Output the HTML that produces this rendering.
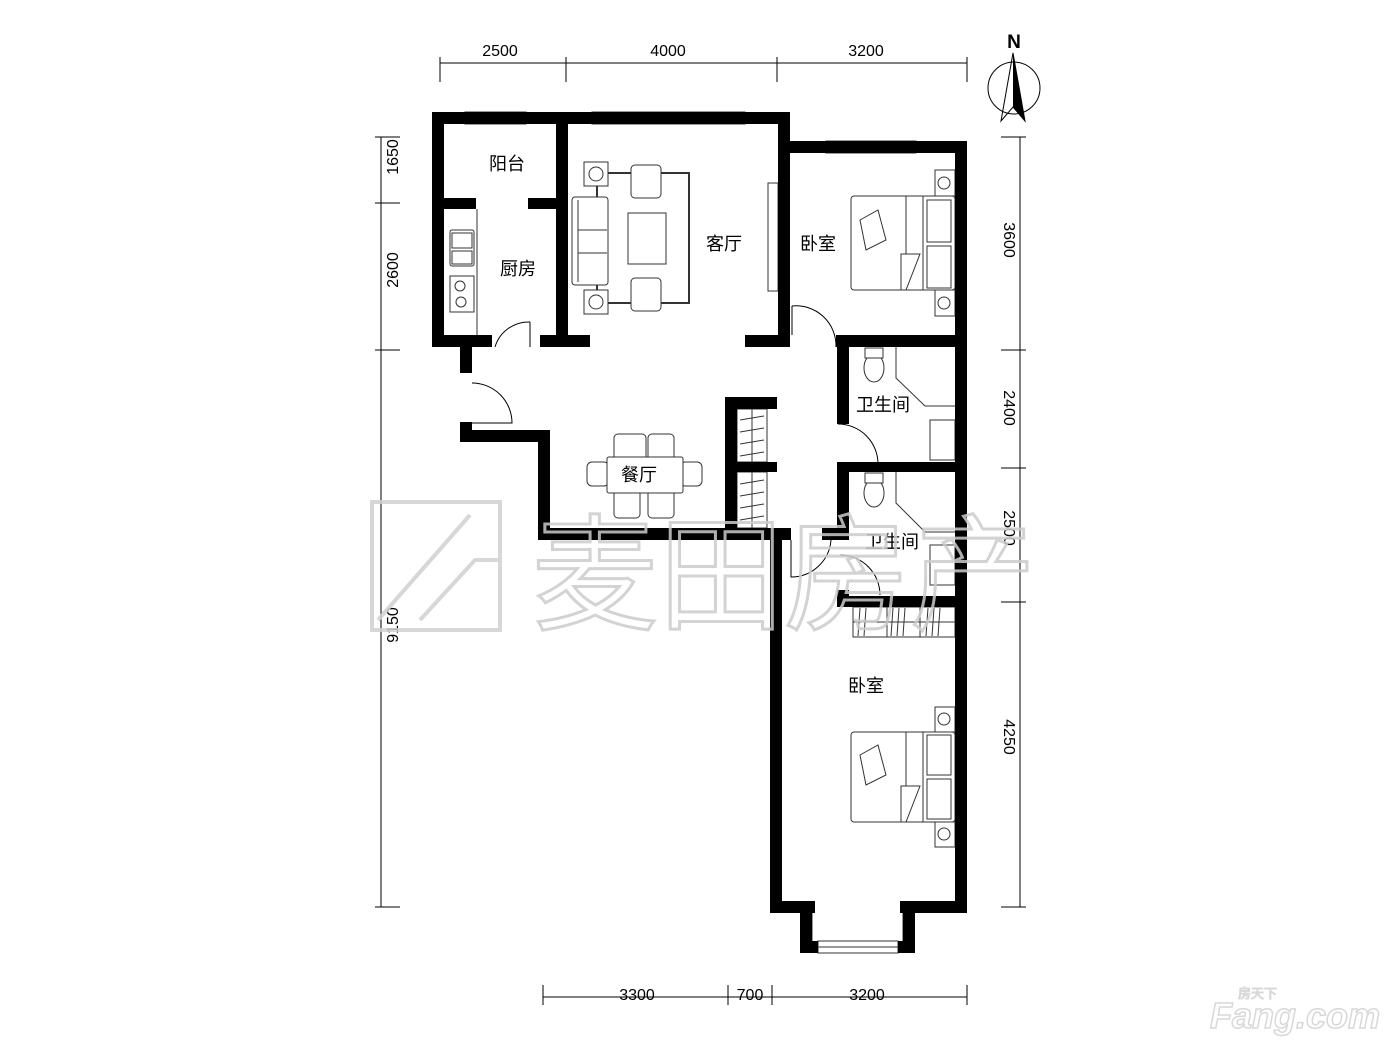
<!DOCTYPE html>
<html><head><meta charset="utf-8"><style>
html,body{margin:0;padding:0;background:#fff;}
svg{display:block;}
text{font-family:"Liberation Sans","Noto Sans CJK SC",sans-serif;}
</style></head><body>
<svg width="1400" height="1050" viewBox="0 0 1400 1050" xmlns="http://www.w3.org/2000/svg">
<rect width="1400" height="1050" fill="#fff"/>

<!-- dimension lines -->
<g stroke="#000" stroke-width="1" fill="none">
<line x1="440" y1="63" x2="967" y2="63"/>
<line x1="440" y1="57" x2="440" y2="82"/><line x1="566" y1="57" x2="566" y2="82"/><line x1="777" y1="57" x2="777" y2="82"/><line x1="967" y1="57" x2="967" y2="82"/>
<line x1="381" y1="137" x2="381" y2="907"/>
<line x1="375" y1="137" x2="400" y2="137"/><line x1="375" y1="203" x2="400" y2="203"/><line x1="375" y1="350" x2="400" y2="350"/><line x1="375" y1="907" x2="400" y2="907"/>
<line x1="1020" y1="137" x2="1020" y2="907"/>
<line x1="1001" y1="137" x2="1026" y2="137"/><line x1="1001" y1="350" x2="1026" y2="350"/><line x1="1001" y1="468" x2="1026" y2="468"/><line x1="1001" y1="602" x2="1026" y2="602"/><line x1="1001" y1="907" x2="1026" y2="907"/>
<line x1="543" y1="997" x2="967" y2="997"/>
<line x1="543" y1="985" x2="543" y2="1005"/><line x1="728" y1="985" x2="728" y2="1005"/><line x1="772" y1="985" x2="772" y2="1005"/><line x1="967" y1="985" x2="967" y2="1005"/>
</g>
<g font-size="16" fill="#000">
<text x="500" y="56" text-anchor="middle">2500</text>
<text x="668" y="56" text-anchor="middle">4000</text>
<text x="866" y="56" text-anchor="middle">3200</text>
<text x="637" y="1000" text-anchor="middle">3300</text>
<text x="750" y="1000" text-anchor="middle">700</text>
<text x="867" y="1000" text-anchor="middle">3200</text>
<text transform="translate(398,157) rotate(-90)" text-anchor="middle">1650</text>
<text transform="translate(398,270) rotate(-90)" text-anchor="middle">2600</text>
<text transform="translate(398,625) rotate(-90)" text-anchor="middle">9150</text>
<text transform="translate(1004,240) rotate(90)" text-anchor="middle">3600</text>
<text transform="translate(1004,408) rotate(90)" text-anchor="middle">2400</text>
<text transform="translate(1004,528) rotate(90)" text-anchor="middle">2500</text>
<text transform="translate(1004,737) rotate(90)" text-anchor="middle">4250</text>
</g>

<!-- north arrow -->
<text x="1014" y="48" font-size="19" font-weight="bold" text-anchor="middle">N</text>
<circle cx="1014" cy="88" r="26" fill="none" stroke="#000" stroke-width="1"/>
<path d="M1013,53 L1001,121 L1013,107 L1025,121 Z" fill="none" stroke="#000" stroke-width="1"/>
<path d="M1013,53 L1013,107 L1025,121 Z" fill="#000"/>

<!-- furniture (thin lines) -->
<g stroke="#333" stroke-width="1" fill="#fff">
<line x1="477" y1="209" x2="477" y2="335"/>
<rect x="450" y="230" width="24" height="36" rx="2"/>
<rect x="452" y="233" width="20" height="15"/><rect x="452" y="251" width="20" height="13"/>
<rect x="450" y="276" width="24" height="36"/>
<circle cx="460" cy="286" r="5"/><circle cx="461" cy="302" r="5"/>
<rect x="597" y="173" width="92" height="130" fill="none" stroke-width="2"/>
<rect x="584" y="162" width="24" height="24"/><rect x="584" y="290" width="24" height="24"/>
<circle cx="596" cy="174" r="7"/><circle cx="596" cy="302" r="7"/>
<rect x="631" y="165" width="30" height="33" rx="4"/><rect x="631" y="278" width="30" height="33" rx="4"/>
<rect x="572" y="197" width="36" height="88" rx="3"/>
<line x1="578" y1="200" x2="578" y2="282"/><line x1="578" y1="230" x2="607" y2="230"/><line x1="578" y1="253" x2="607" y2="253"/>
<rect x="628" y="213" width="38" height="51"/>
<rect x="768" y="183" width="10" height="108"/>
<rect x="935" y="170" width="20" height="26"/><rect x="935" y="290" width="20" height="26"/>
<circle cx="944" cy="183" r="6"/><circle cx="944" cy="303" r="6"/>
<rect x="851" y="196" width="104" height="94" rx="3"/>
<line x1="906" y1="196" x2="906" y2="290"/><line x1="923" y1="196" x2="923" y2="290"/>
<rect x="927" y="200" width="24" height="42"/><rect x="927" y="246" width="24" height="42"/>
<path d="M901,254 L920,254 L906,290 L901,290 Z"/>
<path d="M860,220 L878,210 L886,240 L866,250 Z"/>
<rect x="935" y="707" width="20" height="25"/><rect x="935" y="822" width="20" height="25"/>
<circle cx="944" cy="719" r="6"/><circle cx="944" cy="834" r="6"/>
<rect x="851" y="732" width="104" height="90" rx="3"/>
<line x1="906" y1="732" x2="906" y2="822"/><line x1="923" y1="732" x2="923" y2="822"/>
<rect x="927" y="735" width="24" height="40"/><rect x="927" y="779" width="24" height="40"/>
<path d="M901,786 L920,786 L906,822 L901,822 Z"/>
<path d="M860,755 L878,745 L886,775 L866,785 Z"/>
<rect x="853" y="607" width="102" height="30"/>
<line x1="853" y1="622" x2="955" y2="622"/><line x1="887" y1="607" x2="887" y2="637"/><line x1="920" y1="607" x2="920" y2="637"/>
<rect x="737" y="409" width="30" height="53"/><line x1="752" y1="409" x2="752" y2="462"/>
<rect x="737" y="472" width="30" height="56"/><line x1="752" y1="472" x2="752" y2="528"/>
<rect x="614" y="434" width="32" height="30" rx="4"/><rect x="648" y="434" width="26" height="30" rx="4"/>
<rect x="614" y="488" width="26" height="30" rx="4"/><rect x="648" y="488" width="26" height="30" rx="4"/>
<rect x="587" y="462" width="22" height="24" rx="5"/><rect x="680" y="462" width="22" height="24" rx="5"/>
<rect x="607" y="457" width="76" height="36" rx="2"/>
<ellipse cx="874" cy="368" rx="10" ry="14"/><rect x="865" y="348" width="18" height="10"/>
<path d="M896,347 L896,378 L925,406 L955,406" fill="none"/>
<rect x="930" y="420" width="25" height="40"/>
<ellipse cx="874" cy="493" rx="10" ry="14"/><rect x="865" y="473" width="18" height="10"/>
<path d="M896,472 L896,503 L925,532 L955,532" fill="none"/>
<rect x="930" y="545" width="25" height="40"/>
<rect x="465" y="112" width="61" height="12"/><line x1="465" y1="118" x2="526" y2="118"/>
<rect x="592" y="112" width="153" height="12"/><line x1="592" y1="118" x2="745" y2="118"/>
<rect x="826" y="141" width="90" height="12"/><line x1="826" y1="147" x2="916" y2="147"/>
<rect x="818" y="941" width="80" height="12"/><line x1="818" y1="947" x2="898" y2="947"/>
<rect x="803" y="913" width="9" height="28"/><rect x="903" y="913" width="9" height="28"/>
</g>
<g stroke="#333" stroke-width="1" fill="none">
<path d="M740,420 L764,416 M740,432 L764,428 M740,444 L764,440 M740,456 L764,452"/>
<path d="M740,484 L764,480 M740,496 L764,492 M740,508 L764,504 M740,520 L764,516"/>
<path d="M860,608 L858,636 M866,608 L864,636 M893,608 L891,636 M899,608 L897,636 M905,608 L903,636 M928,608 L926,636 M934,608 L932,636 M940,608 L938,636"/>
</g>

<!-- door arcs -->
<g stroke="#000" stroke-width="1" fill="none">
<path d="M530,322 L530,347 M530,322 A35,35 0 0 0 495,347"/>
<path d="M472,383 A40,40 0 0 1 512,423 L472,423"/>
<path d="M792,306 L792,335 M792,306 A40,40 0 0 1 836,347"/>
<path d="M838,424 A40,40 0 0 1 878,464"/>
<path d="M831,540 A40,40 0 0 1 791,577 L791,540"/>
<path d="M840,555 A40,40 0 0 1 880,595"/>
</g>

<!-- walls -->
<g fill="#000">
<rect x="432" y="112" width="358" height="12"/>
<rect x="432" y="112" width="12" height="235"/>
<rect x="432" y="335" width="60" height="12"/>
<rect x="540" y="335" width="50" height="12"/>
<rect x="444" y="198" width="32" height="11"/>
<rect x="528" y="198" width="28" height="11"/>
<rect x="556" y="112" width="12" height="235"/>
<rect x="745" y="335" width="45" height="12"/>
<rect x="778" y="112" width="12" height="235"/>
<rect x="778" y="141" width="189" height="12"/>
<rect x="955" y="141" width="12" height="772"/>
<rect x="836" y="335" width="131" height="12"/>
<rect x="460" y="347" width="12" height="26"/>
<rect x="460" y="422" width="12" height="20"/>
<rect x="460" y="430" width="90" height="12"/>
<rect x="538" y="430" width="12" height="110"/>
<rect x="538" y="528" width="253" height="12"/>
<rect x="770" y="528" width="12" height="385"/>
<rect x="725" y="397" width="12" height="131"/>
<rect x="725" y="397" width="52" height="12"/>
<rect x="725" y="462" width="52" height="10"/>
<rect x="837" y="347" width="12" height="77"/>
<rect x="837" y="462" width="130" height="10"/>
<rect x="837" y="462" width="12" height="78"/>
<rect x="822" y="528" width="27" height="12"/>
<rect x="837" y="590" width="12" height="17"/>
<rect x="837" y="596" width="130" height="11"/>
<rect x="770" y="901" width="45" height="12"/>
<rect x="900" y="901" width="67" height="12"/>
<rect x="800" y="901" width="12" height="52"/>
<rect x="903" y="901" width="12" height="52"/>
<rect x="800" y="941" width="18" height="12"/>
<rect x="898" y="941" width="17" height="12"/>
</g>

<!-- labels -->
<g font-size="18" fill="#000">
<text x="489" y="170">阳台</text>
<text x="500" y="275">厨房</text>
<text x="706" y="250">客厅</text>
<text x="800" y="250">卧室</text>
<text x="621" y="481">餐厅</text>
<text x="856" y="411">卫生间</text>
<text x="865" y="548">卫生间</text>
<text x="848" y="692">卧室</text>
</g>

<!-- watermark -->
<g fill="none" stroke="#d0d0d0" stroke-width="4" opacity="0.85">
<path d="M372,502 L500,502 L500,630 L372,630 Z M378,620 L470,515 M420,620 L475,560 L500,560"/>
</g>
<text x="532" y="620" font-size="126" fill="none" stroke="#cccccc" stroke-width="3" opacity="0.85" font-family="'Noto Sans CJK SC',sans-serif">麦田房产</text>

<!-- fang logo -->
<text x="1210" y="1028" font-size="36" font-weight="bold" font-style="italic" fill="#fff" stroke="#d8d8d8" stroke-width="1.5">Fang.com</text>
<text x="1238" y="998" font-size="13" fill="#fff" stroke="#d8d8d8" stroke-width="1">房天下</text>
</svg>
</body></html>
